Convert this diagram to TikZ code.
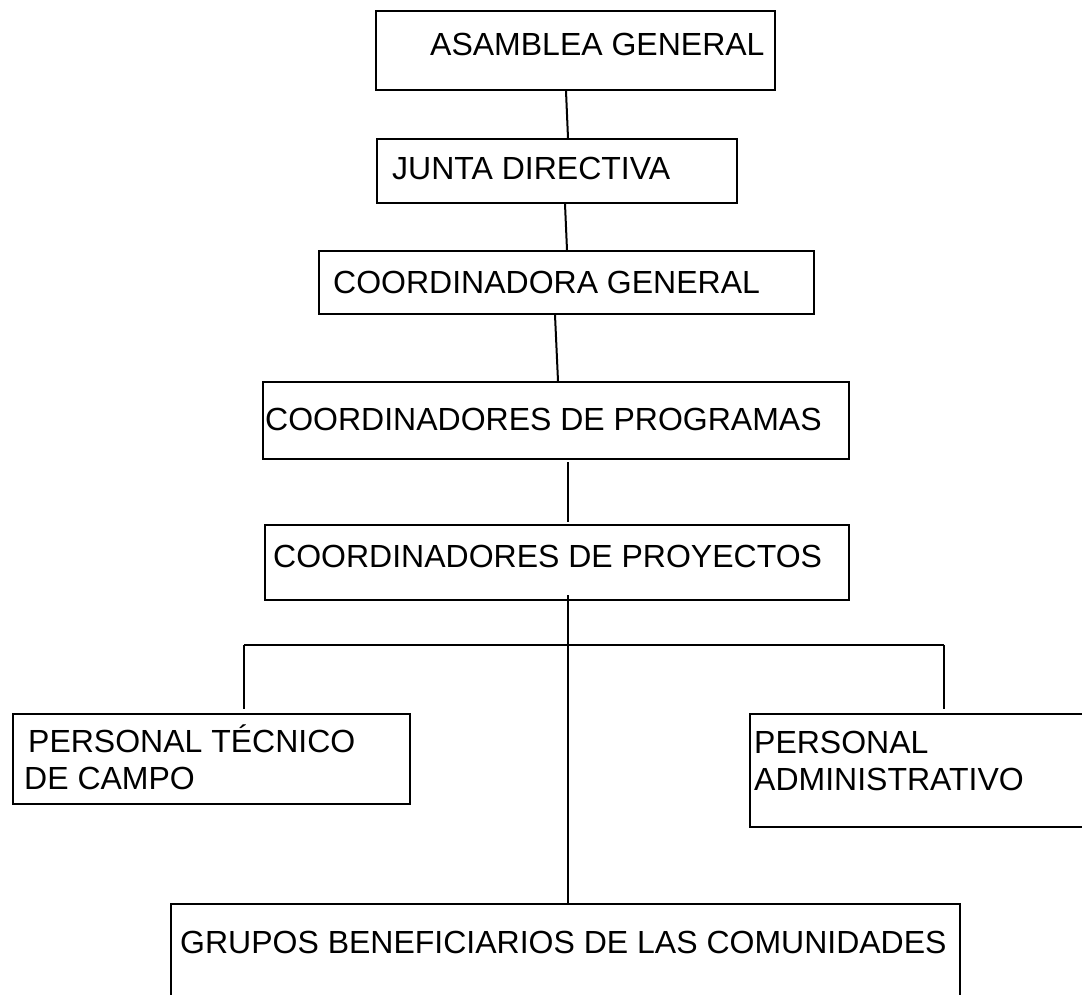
\documentclass[tikz,border=0pt]{standalone}
\usepackage{fontspec}
\setmainfont{Liberation Sans}
\tikzset{
  orgbox/.style={draw, line width=2pt, rectangle, inner sep=0pt, anchor=north west},
  lbl/.style={anchor=base west, inner sep=0pt, font=\fontsize{32}{37}\selectfont},
  conn/.style={line width=2pt}
}
\begin{document}
\begin{tikzpicture}[x=1pt,y=-1pt]
\useasboundingbox (0,0) rectangle (1082,994);
\clip (0,0) rectangle (1082,994);
% boxes
\node[orgbox, minimum width=399pt, minimum height=79pt] (asm) at (375,10) {};
\node[lbl] (asmt) at (430,55) {ASAMBLEA GENERAL};
\node[orgbox, minimum width=360pt, minimum height=64pt] (jd) at (376,138) {};
\node[lbl] (jdt) at (392,179) {JUNTA DIRECTIVA};
\node[orgbox, minimum width=495pt, minimum height=63pt] (cg) at (318,250) {};
\node[lbl] (cgt) at (333,293) {COORDINADORA GENERAL};
\node[orgbox, minimum width=586pt, minimum height=77pt] (cp) at (262,381) {};
\node[lbl] (cpt) at (265,430) {COORDINADORES DE PROGRAMAS};
\node[orgbox, minimum width=584pt, minimum height=75pt] (cy) at (264,524) {};
\node[lbl] (cyt) at (273,567) {COORDINADORES DE PROYECTOS};
\node[orgbox, minimum width=397pt, minimum height=90pt] (tec) at (12,713) {};
\node[lbl] (tect1) at (28,752) {PERSONAL TÉCNICO};
\node[lbl] (tect2) at (24,789) {DE CAMPO};
\node[orgbox, minimum width=400pt, minimum height=113pt] (adm) at (749,713) {};
\node[lbl] (admt1) at (754,753) {PERSONAL};
\node[lbl] (admt2) at (754,790) {ADMINISTRATIVO};
\node[orgbox, minimum width=789pt, minimum height=120pt] (gr) at (170,903) {};
\node[lbl] (grt) at (180,953) {GRUPOS BENEFICIARIOS DE LAS COMUNIDADES};
% connectors
\draw[conn] ([xshift=191pt]asm.south west) -- ([xshift=192pt]jd.north west);
\draw[conn] ([xshift=189pt]jd.south west) -- ([xshift=249pt]cg.north west);
\draw[conn] ([xshift=237pt]cg.south west) -- ([xshift=296pt]cp.north west);
\draw[conn] ([xshift=306pt,yshift=-2pt]cp.south west) -- ([xshift=304pt,yshift=2pt]cy.north west);
\draw[conn] ([xshift=304pt,yshift=6pt]cy.south west) -- ([xshift=398pt]gr.north west);
\coordinate (busL) at (244,645);
\coordinate (busR) at (944,645);
\draw[conn] (busL) -- (busR);
\draw[conn] (busL) -- ([xshift=232pt,yshift=4pt]tec.north west);
\draw[conn] (busR) -- ([xshift=195pt,yshift=4pt]adm.north west);
\end{tikzpicture}
\end{document}
